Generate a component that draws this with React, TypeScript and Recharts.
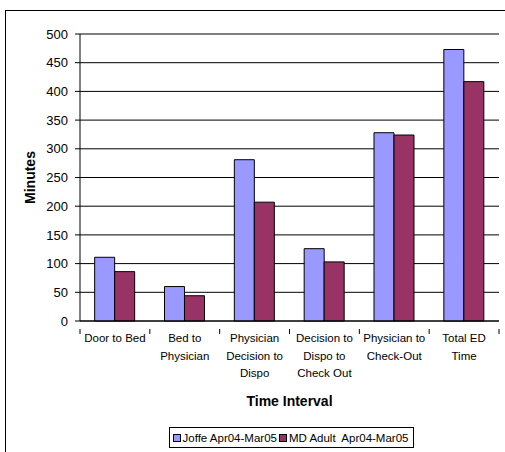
import { BarChart, Bar, XAxis, YAxis, CartesianGrid, Legend, Label, ReferenceLine } from "recharts";

const intervals = [
  "Door to Bed",
  "Bed to\nPhysician",
  "Physician\nDecision to\nDispo",
  "Decision to\nDispo to\nCheck Out",
  "Physician to\nCheck-Out",
  "Total ED\nTime",
];
const joffe = [111, 60, 281, 126, 328, 473];
const mdAdult = [86, 44, 207, 103, 324, 417];
const yTicks = [0, 50, 100, 150, 200, 250, 300, 350, 400, 450, 500];

const seriesNames = { joffe: "Joffe Apr04-Mar05", mdAdult: "MD Adult  Apr04-Mar05" };
const colors = { joffe: "#9999FF", mdAdult: "#993366" };

const data = intervals.map((name, i) => ({ name, joffe: joffe[i], mdAdult: mdAdult[i] }));

const FONT = "'Liberation Sans', Arial, sans-serif";

const CategoryTick = (props: any) => {
  const { x, y, payload, index, visibleTicksCount, width } = props;
  const band = (width || 419) / (visibleTicksCount || 6);
  const lines = String(payload.value).split("\n");
  const left = x - band / 2;
  return (
    <g>
      <line x1={left} y1={y} x2={left} y2={y + 5} stroke="#000" />
      {index === visibleTicksCount - 1 && (
        <line x1={left + band} y1={y} x2={left + band} y2={y + 5} stroke="#000" />
      )}
      <text x={x} y={y} textAnchor="middle" fontFamily={FONT} fontSize={11.5} fill="#000">
        {lines.map((l, i) => (
          <tspan key={i} x={x} dy={i === 0 ? 13 : 17.5}>
            {l}
          </tspan>
        ))}
      </text>
    </g>
  );
};

const LegendBox = () => (
  <div style={{ display: "flex", justifyContent: "center", paddingLeft: 84 }}>
    <div
      style={{
        display: "inline-flex",
        alignItems: "center",
        border: "1px solid #000",
        height: 19,
        padding: "0 3px",
        fontFamily: FONT,
        fontSize: 11.5,
        color: "#000",
        background: "#fff",
        whiteSpace: "pre",
      }}
    >
      {(["joffe", "mdAdult"] as const).map((k) => (
        <span key={k} style={{ display: "inline-flex", alignItems: "center", marginRight: 2 }}>
          <span
            style={{
              display: "inline-block",
              width: 6,
              height: 6,
              border: "1px solid #000",
              background: colors[k],
              marginRight: 2,
            }}
          />
          {seriesNames[k]}
        </span>
      ))}
    </div>
  </div>
);

export default function App() {
  return (
    <div style={{ position: "absolute", left: 0, top: 0, width: 505, height: 452, overflow: "hidden", background: "#fff" }}>
      <div
        style={{
          position: "absolute",
          left: 5,
          top: 10,
          width: 600,
          height: 600,
          borderLeft: "1px solid #000",
          borderTop: "1px solid #000",
        }}
      />
      <div style={{ position: "absolute", left: 0, top: 0 }}>
        <BarChart
          width={505}
          height={452}
          data={data}
          margin={{ top: 34, right: 6, bottom: 4, left: 0 }}
          barCategoryGap="21%"
          barGap={0}
        >
          <CartesianGrid vertical={false} stroke="#000" />
          <XAxis
            dataKey="name"
            interval={0}
            tickLine={false}
            axisLine={{ stroke: "#000" }}
            tick={<CategoryTick />}
            height={106}
          >
            <Label
              value="Time Interval"
              position="insideBottom"
              offset={21}
              style={{ fontFamily: FONT, fontSize: 14, fontWeight: "bold", fill: "#000" }}
            />
          </XAxis>
          <YAxis
            domain={[0, 500]}
            ticks={yTicks}
            width={80}
            tickSize={5}
            tickMargin={7}
            axisLine={{ stroke: "#000" }}
            tickLine={{ stroke: "#000" }}
            tick={{ fontFamily: FONT, fontSize: 13, fill: "#000" }}
          >
            <Label
              content={(p: any) => {
                const vb = p.viewBox || { x: 0, y: 34, width: 80, height: 287 };
                const cx = vb.x + 30;
                const cy = vb.y + vb.height / 2;
                return (
                  <text
                    x={cx}
                    y={cy}
                    transform={`rotate(-90 ${cx} ${cy})`}
                    textAnchor="middle"
                    dominantBaseline="central"
                    fontFamily={FONT}
                    fontSize={14}
                    fontWeight="bold"
                    fill="#000"
                  >
                    Minutes
                  </text>
                );
              }}
            />
          </YAxis>
          <YAxis yAxisId="frame" orientation="right" width={0} tick={false} tickLine={false} axisLine={{ stroke: "#808080" }} domain={[0, 500]} />
          <ReferenceLine y={500} stroke="#808080" />
          <Legend verticalAlign="bottom" content={<LegendBox />} wrapperStyle={{ height: 21 }} />
          <Bar dataKey="joffe" name={seriesNames.joffe} fill={colors.joffe} stroke="#000" strokeWidth={1} isAnimationActive={false} />
          <Bar dataKey="mdAdult" name={seriesNames.mdAdult} fill={colors.mdAdult} stroke="#000" strokeWidth={1} isAnimationActive={false} />
        </BarChart>
      </div>
    </div>
  );
}
